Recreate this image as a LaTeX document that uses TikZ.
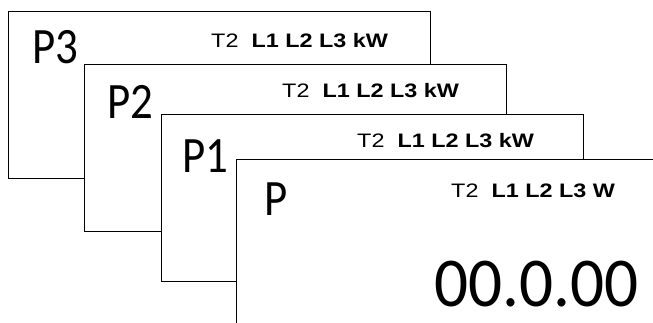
\documentclass[tikz,border=0pt]{standalone}
\usepackage{fontspec}
\usepackage{tikz}
\newfontfamily\bigfont[FakeStretch=0.88]{Carlito}
\newfontfamily\numfont[FakeStretch=0.96]{Carlito}
\newfontfamily\headfont[FakeStretch=1.2]{Liberation Sans}
\newcommand{\hdrline}[1]{T2\ \ \textbf{L1 L2 L3 #1}}
\tikzset{
	screen/.style={draw, line width=1.3pt, fill=white, anchor=north west,
		minimum width=422pt, minimum height=167pt, inner sep=0pt},
	pname/.style={anchor=base west, inner sep=0pt, font=\bigfont\fontsize{51}{51}\selectfont},
	phead/.style={anchor=base west, inner sep=0pt, font=\headfont\fontsize{19.5}{20}\selectfont},
}

\begin{document}
\begin{tikzpicture}[x=1pt, y=-1pt]
		\useasboundingbox (0,0) rectangle (653,322);
		\clip (0,0) rectangle (653,322);
		% Define nodes
		\node[screen]	(s3)	at (8,10.5)	{};
		\node[pname]	(n3)	at (32,63)	{P3};
		\node[phead]	(h3)	at (211,47)	{\hdrline{kW}};
		\node[screen]	(s2)	at (84,64)	{};
		\node[pname]	(n2)	at (107,118)	{P2};
		\node[phead]	(h2)	at (282,97)	{\hdrline{kW}};
		\node[screen]	(s1)	at (161,114)	{};
		\node[pname]	(n1)	at (182,172)	{P1};
		\node[phead]	(h1)	at (357,147)	{\hdrline{kW}};
		\node[screen]	(s0)	at (236,159)	{};
		\node[pname]	(n0)	at (264,215)	{P};
		\node[phead]	(h0)	at (451,197)	{\hdrline{W}};
		\node[anchor=base east, inner sep=0pt, font=\numfont\fontsize{70}{70}\selectfont]
			(val) at (639,306) {00.0.00};
\end{tikzpicture}
\end{document}
